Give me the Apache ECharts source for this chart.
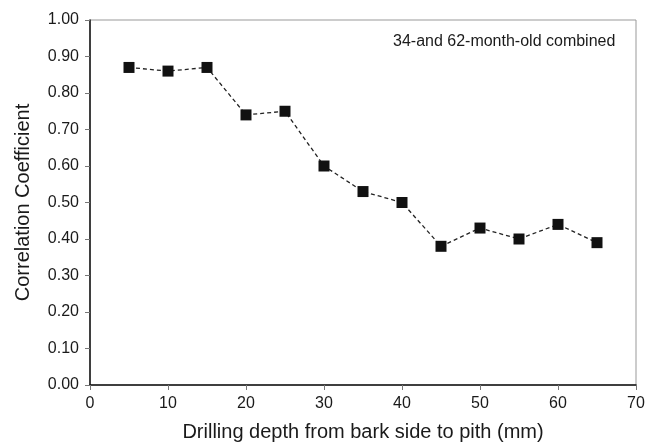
<!DOCTYPE html>
<html>
<head>
<meta charset="utf-8">
<script src="https://cdn.jsdelivr.net/npm/echarts@6/dist/echarts.min.js"></script>
<style>
html, body { margin: 0; padding: 0; background: #fff; }
#main { width: 645px; height: 442px; }
</style>
</head>
<body>
<div id="main"></div>
<script>
var depths = [5, 10, 15, 20, 25, 30, 35, 40, 45, 50, 55, 60, 65];
var corr = [0.87, 0.86, 0.87, 0.74, 0.75, 0.60, 0.53, 0.50, 0.38, 0.43, 0.40, 0.44, 0.39];
var note = '34-and 62-month-old combined';

var dom = document.getElementById('main');
var myChart = echarts.init(dom, null, { renderer: 'canvas' });

var points = depths.map(function (d, i) { return [d, corr[i]]; });

var option = {
	animation: false,
	backgroundColor: '#fff',
	textStyle: { fontFamily: 'Liberation Sans, Arial, sans-serif' },
	grid: {
		left: 90,
		right: 9,
		top: 20,
		bottom: 57,
		outerBoundsMode: 'none',
		containLabel: false,
		show: true,
		borderColor: '#999',
		borderWidth: 1
	},
	xAxis: {
		type: 'value',
		min: 0,
		max: 70,
		interval: 10,
		name: 'Drilling depth from bark side to pith (mm)',
		nameLocation: 'middle',
		nameGap: 37,
		nameTextStyle: { fontSize: 20, color: '#1a1a1a' },
		axisLine: { show: true, lineStyle: { color: '#111', width: 1.5 } },
		axisTick: { show: true, inside: false, length: 5, lineStyle: { color: '#777' } },
		axisLabel: { fontSize: 16, color: '#1a1a1a', margin: 11 },
		splitLine: { show: false }
	},
	yAxis: {
		type: 'value',
		min: 0,
		max: 1,
		interval: 0.1,
		name: 'Correlation Coefficient',
		nameLocation: 'middle',
		nameGap: 57,
		nameTextStyle: { fontSize: 20, color: '#1a1a1a' },
		axisLine: { show: true, lineStyle: { color: '#111', width: 1.5 } },
		axisTick: { show: true, inside: false, length: 5, lineStyle: { color: '#777' } },
		axisLabel: {
			fontSize: 16,
			color: '#1a1a1a',
			margin: 11,
			formatter: function (v) { return v.toFixed(2); }
		},
		splitLine: { show: false }
	},
	graphic: [
		{
			type: 'text',
			left: 393,
			top: 34,
			style: { text: note, fontSize: 16, fill: '#1a1a1a', fontFamily: 'Liberation Sans, Arial, sans-serif' }
		}
	],
	series: [
		{
			type: 'line',
			data: points,
			symbol: 'rect',
			symbolSize: 11,
			itemStyle: { color: '#111' },
			lineStyle: { color: '#222', width: 1.3, type: [4, 3] }
		}
	]
};

myChart.setOption(option);
window.addEventListener('resize', myChart.resize);
</script>
</body>
</html>
